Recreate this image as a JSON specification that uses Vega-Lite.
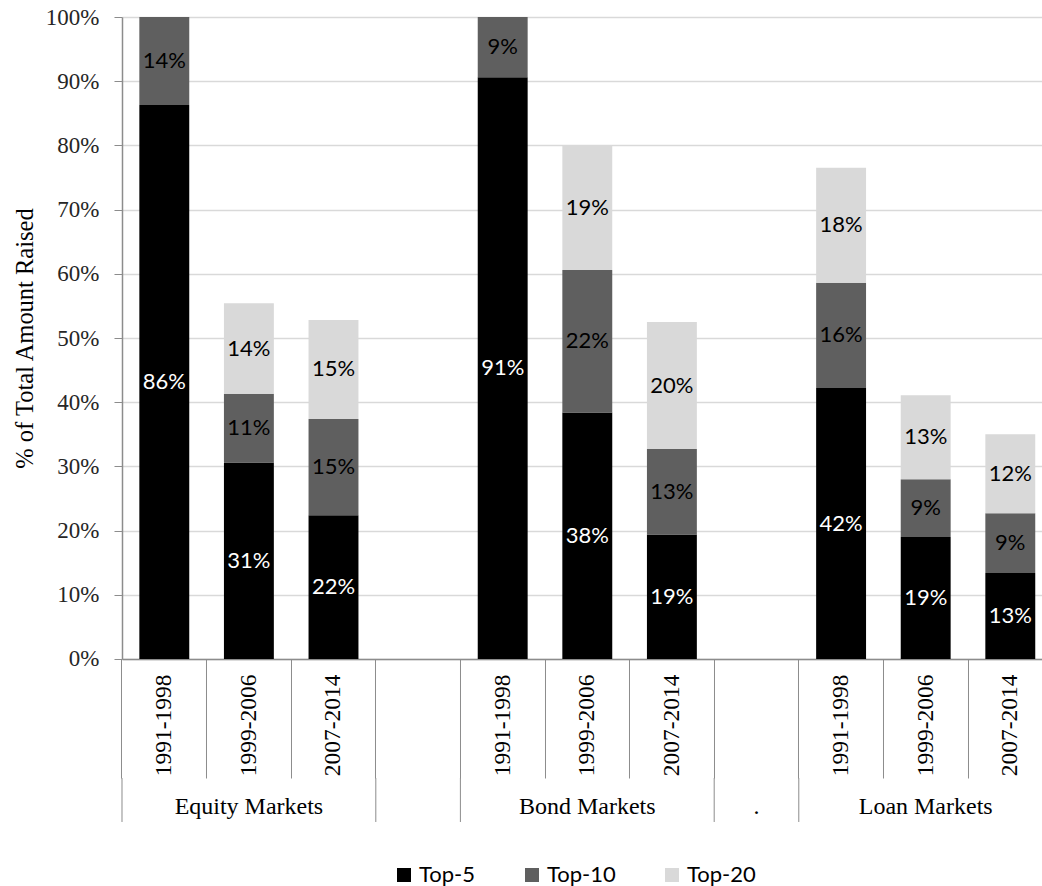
{
  "$schema": "https://vega.github.io/schema/vega-lite/v6.json",
  "padding": {"left": 12, "top": 6, "right": 0, "bottom": 0},
  "background": "white",
  "config": {"view": {"stroke": null}},
  "datasets": {
    "bars": [
      {"key": "E|1991-1998", "series": "Top-5", "rank": 1, "value": 0.863},
      {"key": "E|1991-1998", "series": "Top-10", "rank": 2, "value": 0.137},
      {"key": "E|1999-2006", "series": "Top-5", "rank": 1, "value": 0.306},
      {"key": "E|1999-2006", "series": "Top-10", "rank": 2, "value": 0.107},
      {"key": "E|1999-2006", "series": "Top-20", "rank": 3, "value": 0.141},
      {"key": "E|2007-2014", "series": "Top-5", "rank": 1, "value": 0.224},
      {"key": "E|2007-2014", "series": "Top-10", "rank": 2, "value": 0.150},
      {"key": "E|2007-2014", "series": "Top-20", "rank": 3, "value": 0.154},
      {"key": "B|1991-1998", "series": "Top-5", "rank": 1, "value": 0.906},
      {"key": "B|1991-1998", "series": "Top-10", "rank": 2, "value": 0.094},
      {"key": "B|1999-2006", "series": "Top-5", "rank": 1, "value": 0.384},
      {"key": "B|1999-2006", "series": "Top-10", "rank": 2, "value": 0.222},
      {"key": "B|1999-2006", "series": "Top-20", "rank": 3, "value": 0.194},
      {"key": "B|2007-2014", "series": "Top-5", "rank": 1, "value": 0.194},
      {"key": "B|2007-2014", "series": "Top-10", "rank": 2, "value": 0.133},
      {"key": "B|2007-2014", "series": "Top-20", "rank": 3, "value": 0.198},
      {"key": "L|1991-1998", "series": "Top-5", "rank": 1, "value": 0.422},
      {"key": "L|1991-1998", "series": "Top-10", "rank": 2, "value": 0.164},
      {"key": "L|1991-1998", "series": "Top-20", "rank": 3, "value": 0.179},
      {"key": "L|1999-2006", "series": "Top-5", "rank": 1, "value": 0.190},
      {"key": "L|1999-2006", "series": "Top-10", "rank": 2, "value": 0.090},
      {"key": "L|1999-2006", "series": "Top-20", "rank": 3, "value": 0.131},
      {"key": "L|2007-2014", "series": "Top-5", "rank": 1, "value": 0.134},
      {"key": "L|2007-2014", "series": "Top-10", "rank": 2, "value": 0.093},
      {"key": "L|2007-2014", "series": "Top-20", "rank": 3, "value": 0.123}
    ],
    "groups": [
      {"key": "E|1999-2006", "label": "Equity Markets"},
      {"key": "B|1999-2006", "label": "Bond Markets"},
      {"key": "2|", "label": "."},
      {"key": "L|1999-2006", "label": "Loan Markets"}
    ],
    "bounds": [
      {"key": "E|1991-1998"},
      {"key": "1|"},
      {"key": "B|1991-1998"},
      {"key": "2|"},
      {"key": "L|1991-1998"}
    ]
  },
  "spacing": 119,
  "bounds": "flush",
  "vconcat": [
    {
      "width": 930.6,
      "height": 642,
      "data": {"name": "bars"},
      "transform": [
        {"stack": "value", "groupby": ["key"], "sort": [{"field": "rank", "order": "ascending"}], "as": ["v0", "v1"]},
        {"calculate": "(datum.v0 + datum.v1) / 2", "as": "mid"}
      ],
      "encoding": {
        "x": {
          "field": "key",
          "type": "nominal",
          "scale": {
            "domain": ["E|1991-1998", "E|1999-2006", "E|2007-2014", "1|", "B|1991-1998", "B|1999-2006", "B|2007-2014", "2|", "L|1991-1998", "L|1999-2006", "L|2007-2014"],
            "paddingInner": 0,
            "paddingOuter": 0
          },
          "axis": {
            "title": null,
            "bandPosition": 0,
            "labelExpr": "slice(datum.value, 2)",
            "labelAngle": -90,
            "labelAlign": "right",
            "labelBaseline": "middle",
            "labelPadding": -104,
            "labelFont": "Liberation Serif",
            "labelFontSize": 23.5,
            "labelColor": "#000000",
            "tickSize": 119,
            "tickColor": "#8c8c8c",
            "tickWidth": 1,
            "domainColor": "#8c8c8c",
            "domainWidth": 1.5,
            "grid": false
          }
        }
      },
      "layer": [
        {
          "mark": {"type": "bar", "width": {"band": 0.59}},
          "encoding": {
            "y": {
              "field": "v0",
              "type": "quantitative",
              "scale": {"domain": [0, 1], "nice": false},
              "axis": {
                "title": "% of Total Amount Raised",
                "titleFont": "Liberation Serif",
                "titleFontSize": 24.5,
                "titleFontWeight": "normal",
                "titleColor": "#000000",
                "titlePadding": 8,
                "values": [0, 0.1, 0.2, 0.3, 0.4, 0.5, 0.6, 0.7, 0.8, 0.9, 1],
                "format": ".0%",
                "labelFont": "Liberation Serif",
                "labelFontSize": 23,
                "labelColor": "#262626",
                "labelPadding": 15,
                "tickSize": 8,
                "tickColor": "#8c8c8c",
                "domainColor": "#8c8c8c",
                "domainWidth": 1.5,
                "gridColor": "#d9d9d9",
                "gridWidth": 1.5
              }
            },
            "y2": {"field": "v1"},
            "color": {
              "field": "series",
              "type": "nominal",
              "scale": {"domain": ["Top-5", "Top-10", "Top-20"], "range": ["#000000", "#5f5f5f", "#d9d9d9"]},
              "legend": {
                "title": null,
                "orient": "none",
                "direction": "horizontal",
                "legendX": 271,
                "legendY": 847,
                "symbolType": "square",
                "symbolSize": 196,
                "symbolStrokeWidth": 0,
                "labelFont": "Lato",
                "labelFontSize": 22,
                "labelColor": "#000000",
                "labelOffset": 4,
                "columnPadding": 45,
                "padding": 0
              }
            }
          }
        },
        {
          "mark": {"type": "text", "font": "Lato", "fontSize": 22, "baseline": "middle", "align": "center"},
          "encoding": {
            "y": {"field": "mid", "type": "quantitative"},
            "text": {"field": "value", "type": "quantitative", "format": ".0%"},
            "color": {
              "condition": {"test": "datum.series === 'Top-5'", "value": "#ffffff"},
              "value": "#000000"
            }
          }
        }
      ]
    },
    {
      "width": 930.6,
      "height": 44,
      "layer": [
        {
          "data": {"name": "bounds"},
          "mark": {"type": "rule", "color": "#8c8c8c", "strokeWidth": 1},
          "encoding": {
            "x": {
              "field": "key",
              "type": "nominal",
              "bandPosition": 0,
              "scale": {
                "domain": ["E|1991-1998", "E|1999-2006", "E|2007-2014", "1|", "B|1991-1998", "B|1999-2006", "B|2007-2014", "2|", "L|1991-1998", "L|1999-2006", "L|2007-2014"],
                "paddingInner": 0,
                "paddingOuter": 0
              },
              "axis": null
            }
          }
        },
        {
          "data": {"name": "groups"},
          "mark": {"type": "text", "font": "Liberation Serif", "fontSize": 24, "color": "#000000", "baseline": "middle", "dy": 7},
          "encoding": {
            "x": {"field": "key", "type": "nominal", "axis": null},
            "text": {"field": "label"}
          }
        }
      ]
    }
  ]
}
